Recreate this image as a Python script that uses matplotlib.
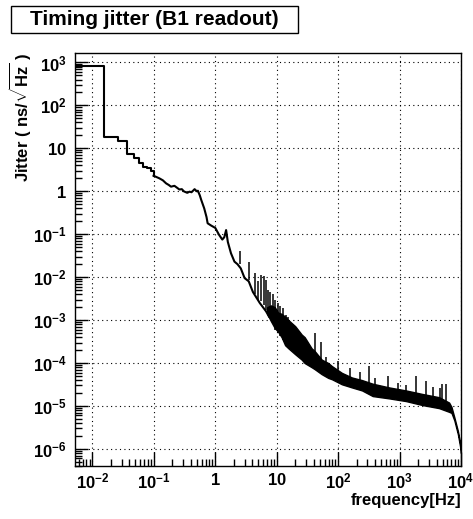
import matplotlib
matplotlib.use("Agg")
import matplotlib.pyplot as plt
from matplotlib.patches import Rectangle
from matplotlib.ticker import FixedLocator, FixedFormatter, LogLocator, NullFormatter
import numpy as np

plt.rcParams["font.family"] = ["Liberation Sans", "DejaVu Sans"]
plt.rcParams["mathtext.fontset"] = "custom"
plt.rcParams["mathtext.rm"] = "Liberation Sans:bold"
plt.rcParams["mathtext.bf"] = "Liberation Sans:bold"
plt.rcParams["mathtext.it"] = "Liberation Sans:bold"

# lowest bins (histogram edges, Hz) and their jitter values (ns/sqrt(Hz))
step_edges = [0.0052, 0.0156, 0.026, 0.0364, 0.0468, 0.0572, 0.0676, 0.078, 0.0884, 0.0988]
step_values = [820, 18.7, 15, 7.4, 6.0, 4.6, 3.7, 3.4, 3.0]

# continuous trace up to the dense region
trace_freq = [0.0988, 0.11, 0.123, 0.14, 0.158, 0.175, 0.19, 0.216, 0.24, 0.26, 0.285,
              0.31, 0.35, 0.38, 0.41, 0.44, 0.46, 0.5, 0.52, 0.56, 0.59, 0.66, 0.72,
              0.75, 0.85, 1.0, 1.15, 1.3, 1.4, 1.5, 1.6, 1.8, 2.05, 2.3, 2.6, 3.0,
              3.5, 4.1, 5.3, 6.7, 7.5]
trace_vals = [2.3, 2.15, 2.0, 1.8, 1.53, 1.4, 1.28, 1.34, 1.2, 1.1, 1.12,
              0.99, 0.92, 0.98, 0.95, 1.05, 1.12, 1.0, 1.03, 0.8, 0.63, 0.4, 0.25,
              0.18, 0.16, 0.14, 0.097, 0.075, 0.085, 0.125, 0.066, 0.036, 0.023, 0.02, 0.016, 0.0095,
              0.008, 0.0045, 0.0025, 0.0016, 0.0012]

# dense noise band: lower and upper envelope
band_freq = [7.0, 8.0, 9.3, 10.5, 12, 13.7, 15.5, 20, 25.5, 28.5, 37, 41.5, 54, 69, 79,
             115, 168, 245, 365, 680, 1270, 2360, 4400, 6400, 7000, 7800, 8900, 9600, 10000]
band_low = [1.4e-3, 9.6e-4, 6.5e-4, 5.4e-4, 4.0e-4, 2.6e-4, 2.2e-4, 1.6e-4, 1.2e-4, 1.0e-4,
            8e-5, 7.2e-5, 5.5e-5, 4.5e-5, 4.2e-5, 3.2e-5, 2.7e-5, 2.3e-5, 1.7e-5, 1.5e-5,
            1.3e-5, 1.05e-5, 8.9e-6, 7.3e-6, 6.9e-6, 4.6e-6, 2.2e-6, 1.2e-6, 8e-7]
band_high = [2.0e-3, 2.2e-3, 2.0e-3, 1.5e-3, 1.4e-3, 1.2e-3, 1.0e-3, 7.2e-4, 4.6e-4, 4.0e-4,
             2.2e-4, 1.9e-4, 1.2e-4, 1.0e-4, 8.5e-5, 5.9e-5, 4.6e-5, 4.0e-5, 3.3e-5, 2.7e-5,
             2.3e-5, 1.9e-5, 1.6e-5, 1.2e-5, 9.5e-6, 5.4e-6, 2.6e-6, 1.5e-6, 1e-6]

# narrow lines sticking out of the noise
spike_freq = [2.5, 3.5, 4.5, 4.9, 5.6, 6.1, 6.6, 7.3, 7.9, 8.7, 9.5, 10.3, 11.3, 12.5, 14, 15.5,
              42, 52, 63, 100, 155, 225, 320, 400, 640, 930, 1250, 1870, 2730, 3550, 4500, 4950, 5700]
spike_top = [0.04, 0.022, 0.0125, 0.008, 0.011, 0.0105, 0.0088, 0.005, 0.0046, 0.004, 0.003,
             0.0025, 0.0021, 0.0019, 0.0013, 0.0012,
             5e-4, 3.1e-4, 1.4e-4, 1.1e-4, 7.8e-5, 6.1e-5, 8.6e-5, 4.4e-5, 5e-5, 3.4e-5,
             3.1e-5, 5e-5, 3.8e-5, 2.7e-5, 2.6e-5, 3.3e-5, 3.2e-5]
spike_base = [0.02, 0.0085, 0.004, 0.003, 0.0028, 0.0022, 0.0017, 0.0013, 0.0011, 8e-4, 6e-4,
              5e-4, 4.3e-4, 3.5e-4, 2.6e-4, 2.2e-4,
              7.5e-5, 6e-5, 5e-5, 3.5e-5, 2.8e-5, 2.3e-5, 1.9e-5, 1.7e-5, 1.5e-5, 1.4e-5,
              1.3e-5, 1.2e-5, 1.05e-5, 9.5e-6, 9e-6, 8.9e-6, 8e-6]

x_ticks = [1e-2, 1e-1, 1, 10, 1e2, 1e3, 1e4]
x_labels = [r"$10^{-2}$", r"$10^{-1}$", r"$1$", r"$10$", r"$10^{2}$", r"$10^{3}$", r"$10^{4}$"]
y_ticks = [1e-6, 1e-5, 1e-4, 1e-3, 1e-2, 1e-1, 1, 10, 1e2, 1e3]
y_labels = [r"$10^{-6}$", r"$10^{-5}$", r"$10^{-4}$", r"$10^{-3}$", r"$10^{-2}$",
            r"$10^{-1}$", r"$1$", r"$10$", r"$10^{2}$", r"$10^{3}$"]

fig = plt.figure(figsize=(4.73, 5.19), dpi=100)
ax = fig.add_axes([75 / 473, 53 / 519, 386 / 473, 413 / 519])

# last step joins onto the start of the trace
ax.step(step_edges, step_values + [trace_vals[0]], where="post", color="black", lw=1.5)
ax.plot(trace_freq, trace_vals, color="black", lw=1.5)
ax.fill_between(band_freq, band_low, band_high, color="black", lw=1.0, edgecolor="black")
ax.vlines(spike_freq, spike_base, spike_top, color="black", lw=1.1)

ax.set_xscale("log")
ax.set_yscale("log")
ax.set_xlim(0.0052, 1e4)
ax.set_ylim(4e-7, 1660)

ax.xaxis.set_major_locator(FixedLocator(x_ticks))
ax.xaxis.set_major_formatter(FixedFormatter(x_labels))
ax.yaxis.set_major_locator(FixedLocator(y_ticks))
ax.yaxis.set_major_formatter(FixedFormatter(y_labels))
ax.xaxis.set_minor_locator(LogLocator(base=10, subs=np.arange(2, 10), numticks=20))
ax.yaxis.set_minor_locator(LogLocator(base=10, subs=np.arange(2, 10), numticks=20))
ax.xaxis.set_minor_formatter(NullFormatter())
ax.yaxis.set_minor_formatter(NullFormatter())

ax.tick_params(which="both", direction="in", top=False, right=False, labelsize=12, width=1)
ax.tick_params(axis="x", which="major", length=10, pad=4)
ax.tick_params(axis="y", which="major", length=9, pad=6)
ax.tick_params(which="minor", length=5)
ax.grid(True, which="major", color="black", linestyle=(0, (1, 3)), lw=0.8)
for sp in ax.spines.values():
    sp.set_linewidth(1.0)

ax.set_xlabel(r"frequency[Hz]", fontsize=12, fontweight="bold", ha="right", va="top")
ax.xaxis.set_label_coords(1.0, -0.066)
ax.set_ylabel(r"Jitter ( ns/$\sqrt{Hz}$ )", fontsize=12, fontweight="bold", ha="right")
ax.yaxis.set_label_coords(-0.109, 1.0)

fig.patches.append(Rectangle((11 / 473, 1 - 33 / 519), 287 / 473, 27 / 519,
                             transform=fig.transFigure, facecolor="white",
                             edgecolor="black", lw=1.0))
fig.text(154.5 / 473, 1 - 19.5 / 519, "Timing jitter (B1 readout)", ha="center", va="center",
         fontsize=15, fontweight="bold")

fig.savefig("out.png", dpi=100)
